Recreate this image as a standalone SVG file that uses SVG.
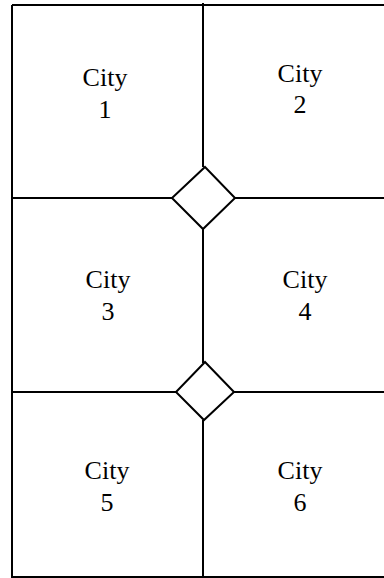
<svg xmlns="http://www.w3.org/2000/svg" width="384" height="578" viewBox="0 0 384 578">
<style>
.ln{stroke:#000;stroke-width:2;fill:none}
.dm{stroke:#000;stroke-width:2;fill:#fff;stroke-linejoin:miter}
.t{font-family:"Liberation Serif","Times New Roman",serif;font-size:26px;fill:#000;text-anchor:middle}
</style>
<rect width="384" height="578" fill="#fff"/>
<g id="connectors">
<path class="ln" d="M12,5 H386 M12,5 V577 H386"/>
<path class="ln" d="M203,3 V167 M203,229 V363 M203,420 V578"/>
<path class="ln" d="M12,198 H173 M235,198 H386"/>
<path class="ln" d="M12,392 H176 M234,392 H386"/>
</g>
<g id="junction1"><polygon class="dm" points="205,167 235,198 203,229 172,198"/></g>
<g id="junction2"><polygon class="dm" points="205,362 234,392 204,420 176,392"/></g>
<g id="city1"><text class="t" x="105" y="86">City</text><text class="t" x="105" y="118">1</text></g>
<g id="city2"><text class="t" x="300" y="82">City</text><text class="t" x="300" y="113">2</text></g>
<g id="city3"><text class="t" x="108" y="288">City</text><text class="t" x="108" y="320">3</text></g>
<g id="city4"><text class="t" x="305" y="288">City</text><text class="t" x="305" y="320">4</text></g>
<g id="city5"><text class="t" x="107" y="479">City</text><text class="t" x="107" y="511">5</text></g>
<g id="city6"><text class="t" x="300" y="479">City</text><text class="t" x="300" y="511">6</text></g>
</svg>
